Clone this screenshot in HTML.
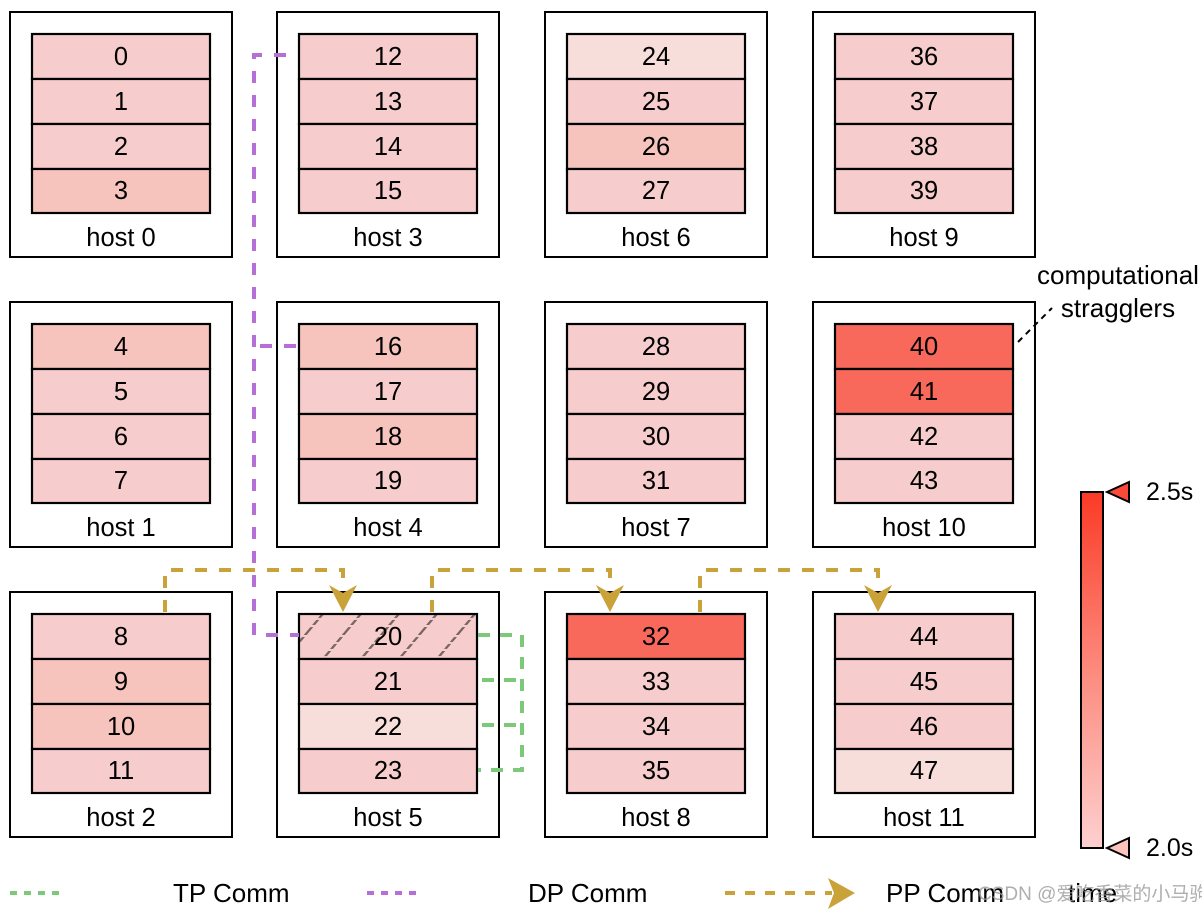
<!DOCTYPE html>
<html><head><meta charset="utf-8"><style>html,body{margin:0;padding:0;background:#fff}svg{display:block}</style></head><body>
<svg width="1202" height="913" viewBox="0 0 1202 913" xmlns="http://www.w3.org/2000/svg" font-family="Liberation Sans, sans-serif">
<defs>
<linearGradient id="cb" x1="0" y1="0" x2="0" y2="1"><stop offset="0" stop-color="#fb3a26"/><stop offset="0.5" stop-color="#fc8a7d"/><stop offset="1" stop-color="#fdd0cf"/></linearGradient>
<pattern id="hatch" width="38" height="45" patternUnits="userSpaceOnUse" patternTransform="skewX(-40)"><rect width="38" height="45" fill="#f6cdcc"/><line x1="2" y1="0" x2="2" y2="45" stroke="#7a6464" stroke-width="3" stroke-dasharray="5 2"/></pattern>
</defs>
<g stroke="#000" stroke-width="2" fill="#fff">
<rect x="10" y="12" width="222" height="245"/><rect x="277" y="12" width="222" height="245"/><rect x="545" y="12" width="222" height="245"/><rect x="813" y="12" width="222" height="245"/>
<rect x="10" y="302" width="222" height="245"/><rect x="277" y="302" width="222" height="245"/><rect x="545" y="302" width="222" height="245"/><rect x="813" y="302" width="222" height="245"/>
<rect x="10" y="592" width="222" height="245"/><rect x="277" y="592" width="222" height="245"/><rect x="545" y="592" width="222" height="245"/><rect x="813" y="592" width="222" height="245"/>
</g>
<g stroke="#000" stroke-width="2.2">
<rect x="32" y="34" width="178" height="45" fill="#f6cdcc"/><rect x="32" y="79" width="178" height="45" fill="#f6cdcc"/><rect x="32" y="124" width="178" height="45" fill="#f6cdcc"/><rect x="32" y="169" width="178" height="44" fill="#f6c4bd"/>
<rect x="299" y="34" width="178" height="45" fill="#f6cdcc"/><rect x="299" y="79" width="178" height="45" fill="#f6cdcc"/><rect x="299" y="124" width="178" height="45" fill="#f6cdcc"/><rect x="299" y="169" width="178" height="44" fill="#f6cdcc"/>
<rect x="567" y="34" width="178" height="45" fill="#f8dedb"/><rect x="567" y="79" width="178" height="45" fill="#f6cdcc"/><rect x="567" y="124" width="178" height="45" fill="#f6c4bd"/><rect x="567" y="169" width="178" height="44" fill="#f6cdcc"/>
<rect x="835" y="34" width="178" height="45" fill="#f6cdcc"/><rect x="835" y="79" width="178" height="45" fill="#f6cdcc"/><rect x="835" y="124" width="178" height="45" fill="#f6cdcc"/><rect x="835" y="169" width="178" height="44" fill="#f6cdcc"/>
<rect x="32" y="324" width="178" height="45" fill="#f6c4bd"/><rect x="32" y="369" width="178" height="45" fill="#f6cdcc"/><rect x="32" y="414" width="178" height="45" fill="#f6cdcc"/><rect x="32" y="459" width="178" height="44" fill="#f6cdcc"/>
<rect x="299" y="324" width="178" height="45" fill="#f6c4bd"/><rect x="299" y="369" width="178" height="45" fill="#f6cdcc"/><rect x="299" y="414" width="178" height="45" fill="#f6c4bd"/><rect x="299" y="459" width="178" height="44" fill="#f6cdcc"/>
<rect x="567" y="324" width="178" height="45" fill="#f6cdcc"/><rect x="567" y="369" width="178" height="45" fill="#f6cdcc"/><rect x="567" y="414" width="178" height="45" fill="#f6cdcc"/><rect x="567" y="459" width="178" height="44" fill="#f6cdcc"/>
<rect x="835" y="324" width="178" height="45" fill="#f8695c"/><rect x="835" y="369" width="178" height="45" fill="#f8695c"/><rect x="835" y="414" width="178" height="45" fill="#f6cdcc"/><rect x="835" y="459" width="178" height="44" fill="#f6cdcc"/>
<rect x="32" y="614" width="178" height="45" fill="#f6cdcc"/><rect x="32" y="659" width="178" height="45" fill="#f6c4bd"/><rect x="32" y="704" width="178" height="45" fill="#f6c4bd"/><rect x="32" y="749" width="178" height="44" fill="#f6cdcc"/>
<rect x="299" y="614" width="178" height="45" fill="url(#hatch)"/><rect x="299" y="659" width="178" height="45" fill="#f6cdcc"/><rect x="299" y="704" width="178" height="45" fill="#f8dedb"/><rect x="299" y="749" width="178" height="44" fill="#f6cdcc"/>
<rect x="567" y="614" width="178" height="45" fill="#f8695c"/><rect x="567" y="659" width="178" height="45" fill="#f6cdcc"/><rect x="567" y="704" width="178" height="45" fill="#f6cdcc"/><rect x="567" y="749" width="178" height="44" fill="#f6cdcc"/>
<rect x="835" y="614" width="178" height="45" fill="#f6cdcc"/><rect x="835" y="659" width="178" height="45" fill="#f6cdcc"/><rect x="835" y="704" width="178" height="45" fill="#f6cdcc"/><rect x="835" y="749" width="178" height="44" fill="#f8dedb"/>
</g>
<g font-size="25.5" text-anchor="middle" fill="#000">
<text x="121" y="65">0</text><text x="121" y="110">1</text><text x="121" y="155">2</text><text x="121" y="199">3</text><text x="121" y="246">host 0</text>
<text x="388" y="65">12</text><text x="388" y="110">13</text><text x="388" y="155">14</text><text x="388" y="199">15</text><text x="388" y="246">host 3</text>
<text x="656" y="65">24</text><text x="656" y="110">25</text><text x="656" y="155">26</text><text x="656" y="199">27</text><text x="656" y="246">host 6</text>
<text x="924" y="65">36</text><text x="924" y="110">37</text><text x="924" y="155">38</text><text x="924" y="199">39</text><text x="924" y="246">host 9</text>
<text x="121" y="355">4</text><text x="121" y="400">5</text><text x="121" y="445">6</text><text x="121" y="489">7</text><text x="121" y="536">host 1</text>
<text x="388" y="355">16</text><text x="388" y="400">17</text><text x="388" y="445">18</text><text x="388" y="489">19</text><text x="388" y="536">host 4</text>
<text x="656" y="355">28</text><text x="656" y="400">29</text><text x="656" y="445">30</text><text x="656" y="489">31</text><text x="656" y="536">host 7</text>
<text x="924" y="355">40</text><text x="924" y="400">41</text><text x="924" y="445">42</text><text x="924" y="489">43</text><text x="924" y="536">host 10</text>
<text x="121" y="645">8</text><text x="121" y="690">9</text><text x="121" y="735">10</text><text x="121" y="779">11</text><text x="121" y="826">host 2</text>
<text x="388" y="645">20</text><text x="388" y="690">21</text><text x="388" y="735">22</text><text x="388" y="779">23</text><text x="388" y="826">host 5</text>
<text x="656" y="645">32</text><text x="656" y="690">33</text><text x="656" y="735">34</text><text x="656" y="779">35</text><text x="656" y="826">host 8</text>
<text x="924" y="645">44</text><text x="924" y="690">45</text><text x="924" y="735">46</text><text x="924" y="779">47</text><text x="924" y="826">host 11</text>
</g>
<g stroke="#b56fd6" stroke-width="4" fill="none" stroke-dasharray="12 12">
<path d="M286 55 H254 V635 H299"/>
<path d="M296 346 H254"/>
</g>
<g stroke="#c9a33a" stroke-width="4" fill="none" stroke-dasharray="12 12">
<path d="M165 612 V570 H343 V590"/>
<path d="M432 612 V570 H610 V590"/>
<path d="M700 612 V570 H878 V590"/>
</g>
<g fill="#c9a33a">
<path d="M329 585 L343 593 L357 585 L343 612 Z"/>
<path d="M596 585 L610 593 L624 585 L610 612 Z"/>
<path d="M864 585 L878 593 L892 585 L878 612 Z"/>
</g>
<g stroke="#7dc97a" stroke-width="4" fill="none" stroke-dasharray="12 10">
<path d="M478 635 H522 V770 H478"/>
<path d="M482 680 H522"/><path d="M482 725 H522"/>
</g>
<path d="M1018 342 L1052 308" stroke="#000" stroke-width="2" stroke-dasharray="6 5"/>
<text x="1118" y="284" font-size="26" text-anchor="middle">computational</text>
<text x="1118" y="317" font-size="26" text-anchor="middle">stragglers</text>
<rect x="1081" y="492" width="22" height="356" fill="url(#cb)" stroke="#000" stroke-width="2"/>
<path d="M1107 492 L1129 482 L1129 502 Z" fill="#fb4a3a" stroke="#000" stroke-width="2"/>
<path d="M1107 848 L1129 838 L1129 858 Z" fill="#fcc2be" stroke="#000" stroke-width="2"/>
<text x="1146" y="500" font-size="25">2.5s</text>
<text x="1146" y="856" font-size="25">2.0s</text>
<path d="M10 893 H62" stroke="#7dc97a" stroke-width="4" stroke-dasharray="7 7"/>
<text x="173" y="902" font-size="26">TP Comm</text>
<path d="M367 893 H418" stroke="#b56fd6" stroke-width="4" stroke-dasharray="7 7"/>
<text x="528" y="902" font-size="26">DP Comm</text>
<path d="M725 893 H832" stroke="#c9a33a" stroke-width="4" stroke-dasharray="10 10"/>
<path d="M828 878 L855 893 L828 909 L834 893 Z" fill="#c9a33a"/>
<text x="886" y="902" font-size="26">PP Comm</text>
<text x="1068" y="902" font-size="26">time</text>
<text x="978" y="900" font-size="19" fill="#9a9a9a" opacity="0.8" font-family="Liberation Sans, Noto Sans CJK SC, sans-serif">CSDN @爱吃香菜的小马驹</text>
</svg>
</body></html>
